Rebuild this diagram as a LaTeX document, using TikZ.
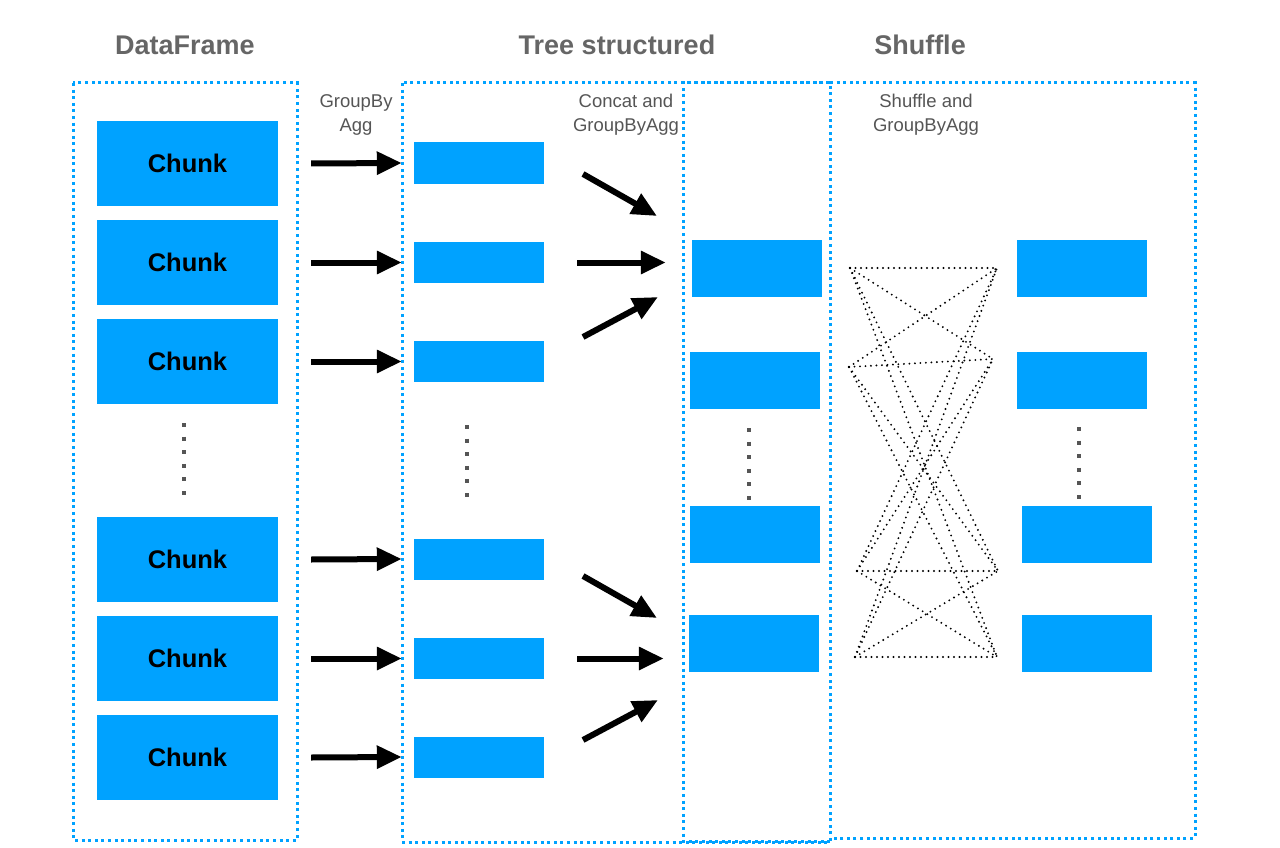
\documentclass[tikz,border=0pt]{standalone}
\usepackage{fontspec}
\setmainfont{Liberation Sans}
\usetikzlibrary{arrows.meta}
\definecolor{cblue}{RGB}{0,162,255}
\definecolor{tgray}{RGB}{102,102,102}
\definecolor{lgray}{RGB}{85,85,85}
\tikzset{
  frame/.style={draw=cblue, line width=3pt, dash pattern=on 3pt off 3.6pt},
  chunkbox/.style={fill=cblue, draw=none, minimum width=181pt, minimum height=85pt, inner sep=0pt,
     font=\fontsize{25.5}{30}\selectfont\bfseries, text=black},
  smallbox/.style={fill=cblue, draw=none, minimum width=130pt, minimum height=41pt, inner sep=0pt},
  bigbox/.style={fill=cblue, draw=none, minimum width=130pt, minimum height=57pt, inner sep=0pt},
  title/.style={font=\fontsize{27}{32}\selectfont\bfseries, text=tgray},
  lab/.style={font=\fontsize{18.5}{24}\selectfont, text=lgray, align=center},
  fat/.style={line width=6pt, -{Triangle[length=25pt,width=22pt]}},
  vdots/.style={draw=lgray, line width=4pt, dash pattern=on 4pt off 9.6pt},
  shuf/.style={line width=2.1pt, line cap=round, dash pattern=on 0pt off 5.5pt}
}
\begin{document}
\begin{tikzpicture}[x=1pt,y=-1pt]
\useasboundingbox (0,0) rectangle (1280,848);
% frames
\draw[frame] (73,83) rectangle (297,840);
\draw[frame] (402,83) rectangle (830,842);
\draw[frame] (830,83) -- (683,83) -- (683,841) -- (830,841);
\draw[frame] (830,83) -- (1195,83) -- (1195,838) -- (830,838);
% titles
\node[title] (t1) at (185,45) {DataFrame};
\node[title] (t2) at (617,45) {Tree structured};
\node[title] (t3) at (920,45) {Shuffle};
% labels
\node[lab] (l1) at (356,115) {GroupBy\\Agg};
\node[lab] (l2) at (626,115) {Concat and\\GroupByAgg};
\node[lab] (l3) at (926,115) {Shuffle and\\GroupByAgg};
% chunks
\node[chunkbox] (c1) at (187.5,163.5) {Chunk};
\node[chunkbox] (c2) at (187.5,262.5) {Chunk};
\node[chunkbox] (c3) at (187.5,361.5) {Chunk};
\node[chunkbox] (c4) at (187.5,559.5) {Chunk};
\node[chunkbox] (c5) at (187.5,658.5) {Chunk};
\node[chunkbox] (c6) at (187.5,757.5) {Chunk};
% column 2
\node[smallbox] (g1) at (479,163) {};
\node[smallbox] (g2) at (479,262.5) {};
\node[smallbox] (g3) at (479,361.5) {};
\node[smallbox] (g4) at (479,559) {};
\node[smallbox] (g5) at (479,658.5) {};
\node[smallbox] (g6) at (479,757) {};
% column 3
\node[bigbox] (h1) at (757,268.5) {};
\node[bigbox] (h2) at (755,380.5) {};
\node[bigbox] (h3) at (755,534) {};
\node[bigbox] (h4) at (754,643) {};
% column 4
\node[bigbox] (s1) at (1082,268.5) {};
\node[bigbox] (s2) at (1082,380.5) {};
\node[bigbox] (s3) at (1087,534) {};
\node[bigbox] (s4) at (1087,643) {};
% vertical ellipses
\draw[vdots] (184,423) -- (184,497);
\draw[vdots] (467,425) -- (467,499);
\draw[vdots] (749,428) -- (749,502);
\draw[vdots] (1079,427) -- (1079,501);
% arrows col1 -> col2
\foreach \i in {1,...,6}{
  \draw[fat] ([xshift=33pt]c\i.east) -- ([xshift=-12pt]g\i.west);
}
% arrows col2 -> col3
\coordinate (a1s) at (583,174); \coordinate (a1e) at (657,216);
\coordinate (a3s) at (583,337); \coordinate (a3e) at (658,297);
\coordinate (b1s) at (583,576); \coordinate (b1e) at (657,618);
\coordinate (b3s) at (583,740); \coordinate (b3e) at (658,700);
\draw[fat] (a1s) -- (a1e);
\draw[fat] ([xshift=33pt]g2.east) -- ([xshift=-26pt]h1.west |- g2.east);
\draw[fat] (a3s) -- (a3e);
\draw[fat] (b1s) -- (b1e);
\draw[fat] ([xshift=33pt]g5.east) -- ([xshift=-25pt]h4.west |- g5.east);
\draw[fat] (b3s) -- (b3e);
% shuffle lines
\coordinate (L1) at (850,268);
\coordinate (L2) at (849,367);
\coordinate (L3) at (857,571);
\coordinate (L4) at (855,657);
\coordinate (R1) at (997,268);
\coordinate (R2) at (993,359);
\coordinate (R3) at (998,571);
\coordinate (R4) at (997,657);
\foreach \i in {1,...,4}{
  \foreach \j in {1,...,4}{
    \draw[shuf] (L\i) -- (R\j);
  }
}
\end{tikzpicture}
\end{document}
